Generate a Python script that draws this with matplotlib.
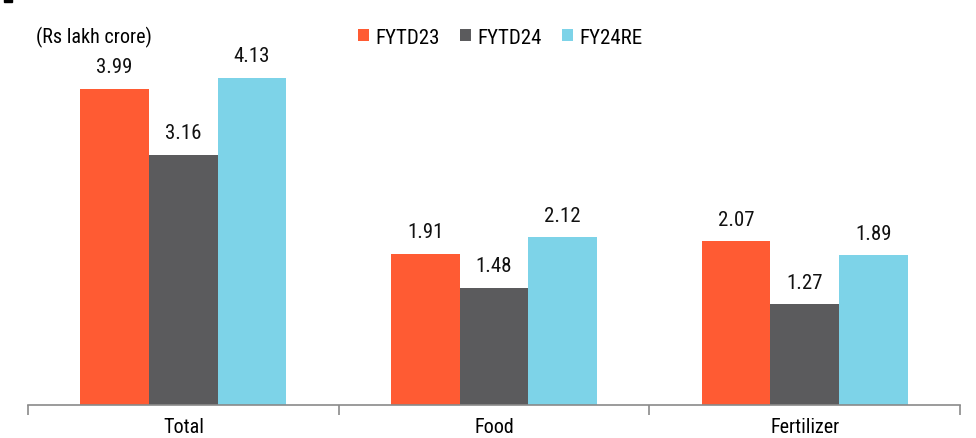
import numpy as np
import matplotlib.pyplot as plt

categories = ['Total', 'Food', 'Fertilizer']
series = ['FYTD23', 'FYTD24', 'FY24RE']
fytd23 = [3.99, 1.91, 2.07]
fytd24 = [3.16, 1.48, 1.27]
fy24re = [4.13, 2.12, 1.89]
colors = ['#FF5B33', '#5B5B5D', '#7DD3E8']

plt.rcParams['font.family'] = ['Roboto Condensed', 'Liberation Sans Narrow', 'Roboto', 'DejaVu Sans']

fig = plt.figure(figsize=(9.76, 4.39), dpi=100)
ax = fig.add_axes([28 / 976, 1 - 406 / 439, 932 / 976, 396 / 439])

x = np.arange(len(categories))
w = 0.221
for i, (name, vals) in enumerate(zip(series, [fytd23, fytd24, fy24re])):
    bars = ax.bar(x + (i - 1) * w, vals, w, color=colors[i], label=name)
    for b, v in zip(bars, vals):
        ax.annotate(f'{v:.2f}', (b.get_x() + b.get_width() / 2, v),
                    xytext=(0, 9), textcoords='offset points',
                    ha='center', va='bottom', fontsize=15, color='#111111')

ax.set_xlim(-0.5, 2.5)
ax.set_ylim(0, 5)
ax.set_yticks([])
for s in ['top', 'right', 'left']:
    ax.spines[s].set_visible(False)
ax.spines['bottom'].set_color('#8a8a8a')
ax.spines['bottom'].set_linewidth(1.2)
ax.set_xticks(x)
ax.set_xticklabels(categories, fontsize=14.5)
ax.set_xticks([-0.5, 0.5, 1.5, 2.5], minor=True)
ax.tick_params(axis='x', which='major', length=0, pad=9)
ax.tick_params(axis='x', which='minor', length=7, color='#8a8a8a', width=1.2)

ax.text(8 / 932, 1 - (37 - 10) / 396, '(Rs lakh crore)', transform=ax.transAxes,
        ha='left', va='center', fontsize=14.5)

fig.legend(loc='center left', bbox_to_anchor=(358 / 976, 1 - 38 / 439), ncol=3,
           frameon=False, fontsize=15, handlelength=0.55, handleheight=0.55,
           handletextpad=0.3, columnspacing=0.95, borderaxespad=0, borderpad=0)

fig.patches.append(plt.Rectangle((4 / 976, 1 - 3 / 439), 8 / 976, 3 / 439,
                                 transform=fig.transFigure, color='black'))

fig.savefig('out.png', dpi=100)
